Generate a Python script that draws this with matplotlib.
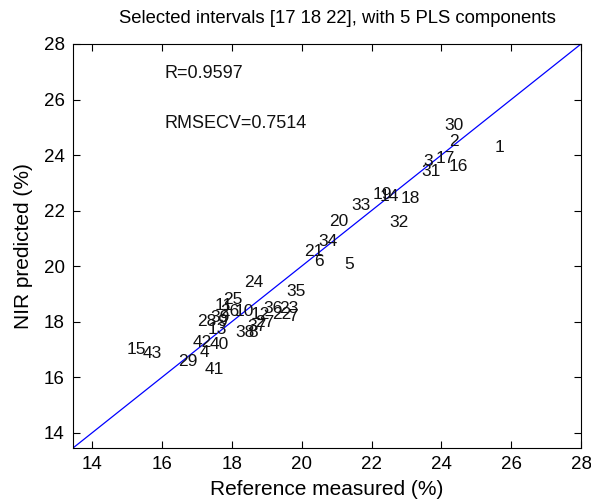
import matplotlib
matplotlib.use("Agg")
import matplotlib.pyplot as plt

plt.rcParams['font.family'] = ['Liberation Sans', 'DejaVu Sans']

sample_ids = list(range(1, 44))
reference = [25.54, 24.23, 23.49, 17.07, 21.21, 20.35, 19.61, 18.47, 17.58, 18.07,
             17.50, 18.55, 17.30, 22.23, 14.99, 24.20, 23.83, 22.83, 22.03, 20.78,
             20.07, 19.15, 19.35, 18.35, 17.76, 17.67, 18.67, 17.01, 16.47, 24.09,
             23.43, 22.52, 21.41, 20.49, 19.55, 18.90, 18.44, 18.10, 17.38, 17.36,
             17.21, 16.87, 15.45]
predicted = [24.28, 24.50, 23.77, 16.88, 20.06, 20.16, 18.18, 17.60, 18.00, 18.36,
             18.58, 18.25, 17.71, 22.51, 16.99, 23.59, 23.88, 22.44, 22.58, 21.61,
             20.53, 18.25, 18.47, 19.41, 18.79, 18.36, 17.96, 18.00, 16.55, 25.07,
             23.41, 21.57, 22.19, 20.89, 19.08, 18.47, 17.82, 17.60, 18.14, 17.17,
             16.27, 17.24, 16.84]
axis_min, axis_max = 13.45, 28.0
ticks = [14, 16, 18, 20, 22, 24, 26, 28]
title = "Selected intervals [17 18 22], with 5 PLS components"
stats = ["R=0.9597", "RMSECV=0.7514"]
stats_pos = [(16.07, 26.95), (16.07, 25.15)]

fig = plt.figure(figsize=(5.91, 5.01), dpi=100)
ax = fig.add_axes([73/591, 53/501, 508/591, 404/501])

ax.plot([axis_min, axis_max], [axis_min, axis_max], color='#0000ff', lw=0.9)
for sid, xv, yv in zip(sample_ids, reference, predicted):
    ax.text(xv, yv, str(sid), ha='left', va='center', fontsize=12.5, color='#111111')
for s, (xv, yv) in zip(stats, stats_pos):
    ax.text(xv, yv, s, ha='left', va='center', fontsize=13, color='#111111')

ax.set_xlim(axis_min, axis_max)
ax.set_ylim(axis_min, axis_max)
ax.set_xticks(ticks)
ax.set_yticks(ticks)
ax.tick_params(direction='in', top=True, right=True, labelsize=13.5, length=5, width=0.8, pad=6)
for sp in ax.spines.values():
    sp.set_linewidth(0.8)
ax.set_xlabel("Reference measured (%)", fontsize=15, labelpad=5)
ax.set_ylabel("NIR predicted (%)", fontsize=15, labelpad=8)
ax.set_title(title, fontsize=13.3, pad=15, x=0.52)

fig.savefig("out.png", dpi=100)
